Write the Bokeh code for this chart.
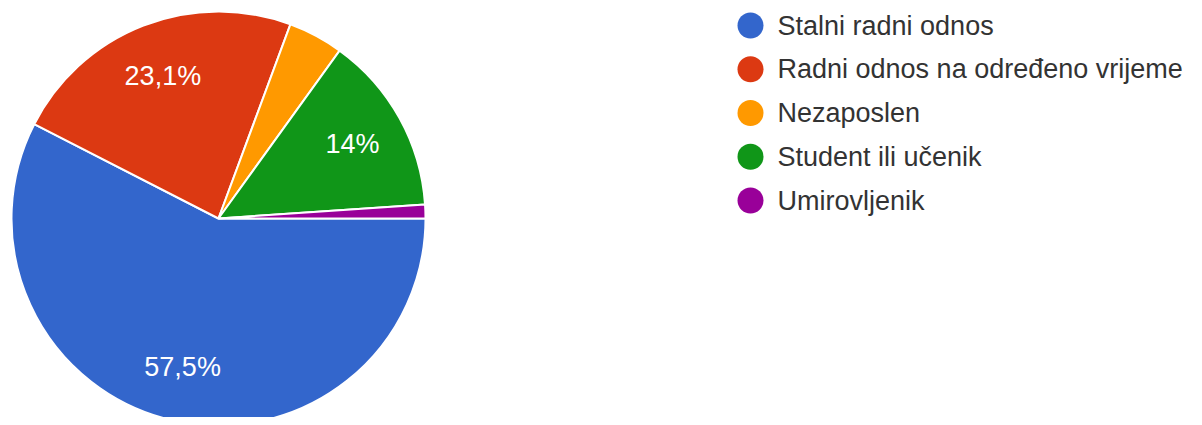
import math
from bokeh.plotting import figure
from bokeh.models import ColumnDataSource, Range1d
from bokeh.core.properties import value
from bokeh.embed import file_html
from bokeh.resources import INLINE

categories = ["Stalni radni odnos", "Radni odnos na određeno vrijeme", "Nezaposlen",
              "Student ili učenik", "Umirovljenik"]
counts = [107, 43, 8, 26, 2]
colors = ["#3366cc", "#dc3912", "#ff9900", "#109618", "#990099"]

W, H = 1186, 417
p = figure(width=W, height=H, output_backend="svg", toolbar_location=None,
           x_range=Range1d(0, W), y_range=Range1d(0, H),
           x_axis_type=None, y_axis_type=None, min_border=0)
p.grid.visible = False
p.outline_line_color = None
p.background_fill_color = "white"

cx, cy, R = 218, 199, 207
total = sum(counts)
starts, ends, lx, ly, ltxt = [], [], [], [], []
cum = 0.0
for c in counts:
    a0 = cum / total * 2 * math.pi
    cum += c
    a1 = cum / total * 2 * math.pi
    # clockwise from 3 o'clock
    starts.append(-a1)
    ends.append(-a0)
    pct = c / total * 100
    if pct >= 5:
        mid = -(a0 + a1) / 2
        lx.append(cx + 0.74 * R * math.cos(mid))
        ly.append(cy + 0.74 * R * math.sin(mid))
        s = f"{pct:.1f}"
        if s.endswith(".0"):
            s = s[:-2]
        ltxt.append(s.replace(".", ",") + "%")

src = ColumnDataSource(dict(start=starts, end=ends, color=colors, cat=categories))
p.wedge(x=cx, y=cy, radius=R, start_angle="start", end_angle="end", source=src,
        fill_color="color", line_color="white", line_width=2, direction="anticlock")

p.text(x=lx, y=ly, text=ltxt, text_color="white", text_font=value("Liberation Sans"),
       text_font_size="27px", text_align="center", text_baseline="middle")

# legend
ly0, step = 392, 43.75
leg_y = [ly0 - i * step for i in range(len(categories))]
p.scatter(x=[750] * len(categories), y=leg_y, size=26, marker="circle",
          fill_color=colors, line_color=None)
p.text(x=[777] * len(categories), y=leg_y, text=categories, text_color="#333333",
       text_font=value("Liberation Sans"), text_font_size="27px",
       text_align="left", text_baseline="middle")

open("out.html", "w").write(file_html(p, INLINE))
